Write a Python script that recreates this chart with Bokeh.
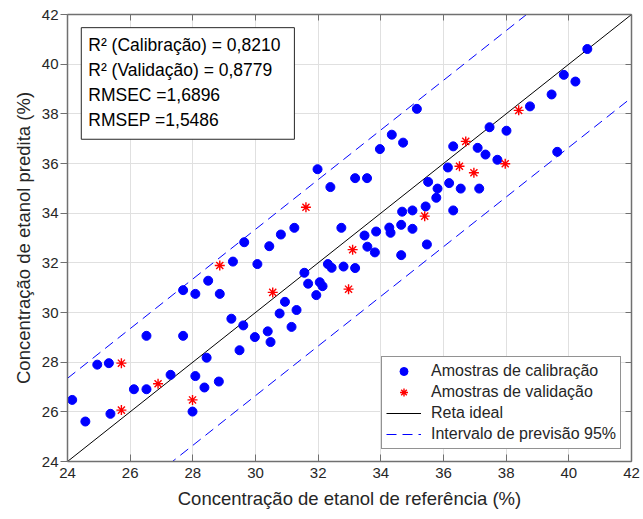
from bokeh.plotting import figure
from bokeh.models import (LinearAxis, FixedTicker, Legend, LegendItem, Label)
from bokeh.embed import file_html
from bokeh.resources import INLINE

# ---------------- data ----------------
cal_x = [24.15, 24.57, 24.95, 25.32, 25.37, 26.12, 26.52, 26.52, 27.29, 27.69,
         27.69, 27.99, 28.08, 28.08, 28.37, 28.44, 28.49, 28.83, 28.86, 29.23,
         29.28, 29.49, 29.61, 29.64, 29.98, 30.06, 30.39, 30.48, 30.44, 30.77,
         30.81, 30.94, 31.15, 31.24, 31.31, 31.56, 31.68, 31.94, 32.05, 32.14,
         32.31, 32.43, 32.81, 32.74, 31.98, 32.39, 33.18, 33.56, 33.48, 33.85,
         34.27, 34.31, 34.65, 35.01, 34.68, 35.01, 35.43, 35.77, 35.51, 35.81,
         36.18, 36.14, 36.31, 36.55, 37.14, 36.31, 37.09, 37.34, 37.72, 37.47,
         38.01, 38.76, 39.45, 39.63, 39.84, 40.21, 40.59, 33.97, 34.35, 34.71,
         35.15, 33.57, 33.81, 34.65, 35.47, 33.18]
cal_y = [26.48, 25.61, 27.90, 27.96, 25.92, 26.91, 26.91, 29.06, 27.49, 30.90,
         29.06, 26.01, 30.75, 27.44, 26.98, 28.18, 31.28, 27.22, 30.75, 29.75,
         32.05, 28.48, 29.48, 32.83, 29.01, 31.95, 29.24, 28.81, 32.67, 29.96,
         33.14, 30.43, 29.42, 33.41, 30.10, 31.60, 31.16, 30.70, 31.22, 31.06,
         31.95, 31.80, 31.85, 33.41, 35.77, 35.05, 35.41, 35.41, 33.10, 33.26,
         33.42, 33.21, 33.53, 33.37, 34.06, 34.11, 34.27, 34.62, 35.26, 34.99,
         35.21, 35.84, 34.11, 34.99, 34.99, 36.69, 36.63, 36.36, 36.15, 37.46,
         37.32, 38.30, 38.78, 36.47, 39.57, 39.30, 40.61, 36.58, 37.16, 36.84,
         38.20, 32.65, 32.42, 32.31, 32.74, 31.79]

val_x = [25.72, 25.72, 26.89, 27.99, 28.86, 30.55, 31.61, 32.97, 33.10, 35.40,
         36.51, 36.97, 36.71, 37.97, 38.40]
val_y = [27.96, 26.07, 27.13, 26.48, 31.89, 30.81, 34.24, 30.94, 32.53, 33.88,
         35.89, 35.63, 36.89, 35.99, 38.14]

pred_interval = 3.35          # half width of the 95 % prediction band
ticks = [24, 26, 28, 30, 32, 34, 36, 38, 40, 42]
axis_min, axis_max = 24, 42

stats_lines = ["R² (Calibração) = 0,8210",
               "R² (Validação) = 0,8779",
               "RMSEC =1,6896",
               "RMSEP =1,5486"]

legend_labels = ["Amostras de calibração", "Amostras de validação",
                 "Reta ideal", "Intervalo de previsão 95%"]

FONT = "Liberation Sans"
AX_COL = "#707070"
TXT_COL = "#262626"

# ---------------- figure ----------------
p = figure(width=643, height=519, x_range=(axis_min, axis_max),
           y_range=(axis_min, axis_max),
           output_backend="svg", toolbar_location=None,
           min_border_left=67, min_border_right=12,
           min_border_top=14, min_border_bottom=58)
p.outline_line_color = None
p.background_fill_color = "white"
p.border_fill_color = "white"

p.xaxis.ticker = FixedTicker(ticks=ticks)
p.yaxis.ticker = FixedTicker(ticks=ticks)
p.xgrid.ticker = FixedTicker(ticks=ticks)
p.ygrid.ticker = FixedTicker(ticks=ticks)
p.grid.grid_line_color = "#e0e0e0"
p.grid.grid_line_width = 1

for ax in (p.xaxis[0], p.yaxis[0]):
    ax.axis_line_color = AX_COL
    ax.axis_line_width = 1.5
    ax.major_tick_line_color = AX_COL
    ax.major_tick_line_width = 1
    ax.minor_tick_line_color = None
    ax.major_label_text_font = FONT
    ax.major_label_text_font_size = "15px"
    ax.major_label_text_color = TXT_COL
    ax.axis_label_text_font = FONT
    ax.axis_label_text_font_size = "18.5px"
    ax.axis_label_text_font_style = "normal"
    ax.axis_label_text_color = TXT_COL

p.xaxis.axis_label = "Concentração de etanol de referência (%)"
p.yaxis.axis_label = "Concentração de etanol predita (%)"
p.xaxis.major_tick_in = 7
p.xaxis.major_tick_out = 0
p.xaxis.major_label_standoff = 6
p.xaxis.axis_label_standoff = 7
p.yaxis.major_tick_in = 0
p.yaxis.major_tick_out = 7
p.yaxis.major_label_standoff = 2
p.yaxis.axis_label_standoff = 5

for side in ("right", "above"):
    ax = LinearAxis(ticker=FixedTicker(ticks=ticks),
                    major_label_overrides={t: "" for t in ticks},
                    major_label_text_font_size="1px",
                    major_label_standoff=0,
                    major_tick_in=6, major_tick_out=0,
                    axis_line_color=AX_COL, axis_line_width=1.5,
                    major_tick_line_color=AX_COL,
                    minor_tick_line_color=None)
    p.add_layout(ax, side)

# ---------------- glyphs ----------------
line_x = [axis_min, axis_max]
ideal = p.line(x=line_x, y=line_x, line_color="black", line_width=1)
band = p.line(x=line_x, y=[v + pred_interval for v in line_x],
              line_color="#0000ff", line_width=1, line_dash="10 6")
p.line(x=line_x, y=[v - pred_interval for v in line_x],
       line_color="#0000ff", line_width=1, line_dash="10 6")

cal = p.scatter(x=cal_x, y=cal_y, marker="circle", size=9,
                fill_color="#0000ff", line_color="#0000ff")
val = p.scatter(x=val_x, y=val_y, marker="asterisk", size=10,
                line_color="#ff0000", line_width=1.4)

legend = Legend(items=[LegendItem(label=legend_labels[0], renderers=[cal]),
                       LegendItem(label=legend_labels[1], renderers=[val]),
                       LegendItem(label=legend_labels[2], renderers=[ideal]),
                       LegendItem(label=legend_labels[3], renderers=[band])],
                location=(314, 12), orientation="vertical",
                label_text_font=FONT, label_text_font_size="16px",
                label_text_color=TXT_COL,
                glyph_width=35, glyph_height=20, label_height=20,
                label_standoff=10, spacing=1, padding=4, margin=0,
                border_line_color="#262626", border_line_width=1,
                background_fill_color="white", background_fill_alpha=1)
p.add_layout(legend, "center")

stats = Label(x=24.44, y=41.47, x_units="data", y_units="data",
              text="\n".join(stats_lines), anchor="top_left",
              text_font=FONT, text_font_size="17.5px", text_color="black",
              text_line_height=1.26,
              border_line_color="#262626", border_line_width=1,
              background_fill_color="white", padding=(7, 14, 7, 9))
p.add_layout(stats)

open("out.html", "w").write(file_html(p, INLINE))
